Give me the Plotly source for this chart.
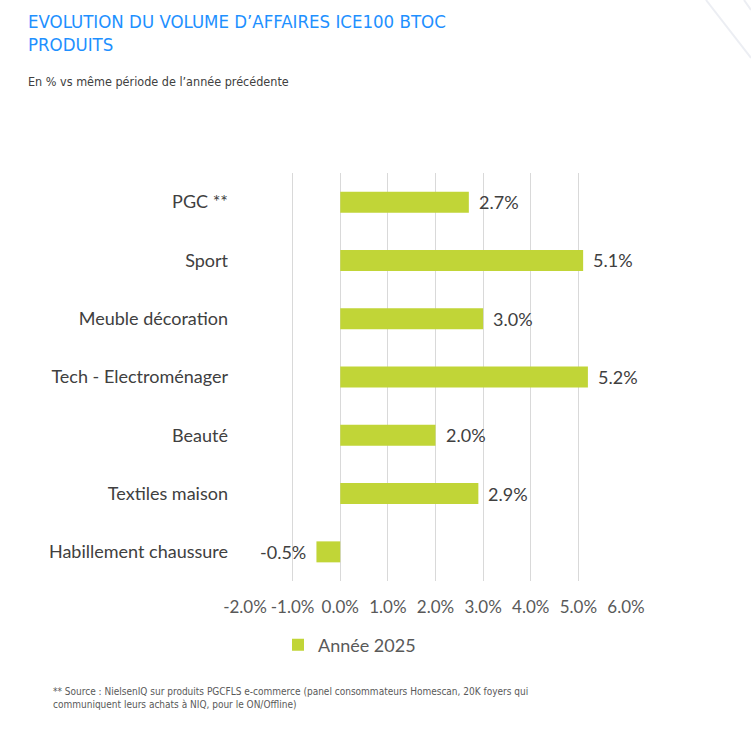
import plotly.graph_objects as go

categories = ["PGC **", "Sport", "Meuble décoration", "Tech - Electroménager",
              "Beauté", "Textiles maison", "Habillement chaussure"]
values = [2.7, 5.1, 3.0, 5.2, 2.0, 2.9, -0.5]
tick_vals = [-2, -1, 0, 1, 2, 3, 4, 5, 6]
tick_text = ["-2.0%", "-1.0%", "0.0%", "1.0%", "2.0%", "3.0%", "4.0%", "5.0%", "6.0%"]
series_name = "Année 2025"

W, H = 751, 730
L, R, T, B = 245, 626, 173, 581

def px(x):
    return (x - L) / (R - L)

def py(y):
    return (B - y) / (B - T)

BODY = "Lato, 'Open Sans', sans-serif"
COND = "'DejaVu Sans Condensed', sans-serif"

fig = go.Figure()
fig.add_trace(go.Bar(
    y=categories, x=values, orientation="h", name=series_name,
    marker=dict(color="#C1D537", line=dict(width=0)),
    showlegend=True,
))

for c, v in zip(categories, values):
    fig.add_annotation(x=v, y=c, xref="x", yref="y", text=f"{v:.1f}%", showarrow=False,
                       xanchor="left" if v >= 0 else "right", yanchor="middle",
                       xshift=8 if v >= 0 else -8,
                       font=dict(family=BODY, size=18, color="#404040"))

fig.update_layout(
    width=W, height=H,
    margin=dict(l=L, r=W - R, t=T, b=H - B, pad=0),
    paper_bgcolor="white", plot_bgcolor="white",
    bargap=0.64,
    xaxis=dict(range=[-2, 6], tickvals=tick_vals, ticktext=tick_text,
               showgrid=True, gridcolor="#D9D9D9", gridwidth=1,
               zeroline=True, zerolinecolor="#D9D9D9", zerolinewidth=1,
               showline=False, ticks="", ticklabelstandoff=14,
               tickfont=dict(family=BODY, size=17, color="#595959")),
    yaxis=dict(autorange="reversed", showgrid=False, zeroline=False, ticks="",
               ticklabelstandoff=16,
               tickfont=dict(family=BODY, size=18, color="#404040")),
    legend=dict(orientation="h", x=px(278), y=py(645), xanchor="left", yanchor="middle",
                font=dict(family=BODY, size=18, color="#595959"),
                itemwidth=30, bgcolor="rgba(0,0,0,0)"),
    font=dict(family=BODY),
)

title_font = dict(family=COND, size=18.5, color="#1E90FF")
fig.add_annotation(text="EVOLUTION DU VOLUME D’AFFAIRES ICE100 BTOC", xref="paper", yref="paper",
                   x=px(26), y=py(21), xanchor="left", yanchor="middle", showarrow=False,
                   font=title_font)
fig.add_annotation(text="PRODUITS", xref="paper", yref="paper",
                   x=px(26), y=py(44), xanchor="left", yanchor="middle", showarrow=False,
                   font=title_font)
fig.add_annotation(text="En % vs même période de l’année précédente", xref="paper", yref="paper",
                   x=px(26), y=py(82), xanchor="left", yanchor="middle", showarrow=False,
                   font=dict(family=COND, size=12.5, color="#404040"))
fig.add_annotation(text="** Source : NielsenIQ sur produits PGCFLS e-commerce (panel consommateurs Homescan, 20K foyers qui<br>communiquent leurs achats à NIQ, pour le ON/Offline)",
                   xref="paper", yref="paper", x=px(51), y=py(698), xanchor="left", yanchor="middle",
                   align="left", showarrow=False,
                   font=dict(family=COND, size=10, color="#595959"))

# faint decorative diagonal lines (top right)
fig.add_shape(type="line", xref="paper", yref="paper", x0=px(706), y0=py(0), x1=px(751), y1=py(58),
              line=dict(color="#ECEEF3", width=2))
fig.add_shape(type="line", xref="paper", yref="paper", x0=px(744), y0=py(0), x1=px(751), y1=py(10),
              line=dict(color="#ECEEF3", width=2))

fig.write_html("out.html")
